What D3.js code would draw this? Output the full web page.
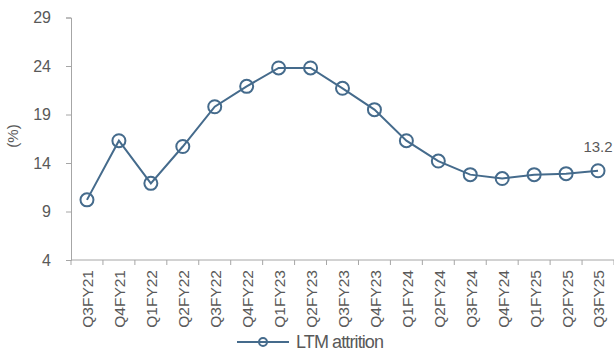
<!DOCTYPE html>
<html>
<head>
<meta charset="utf-8">
<script src="https://cdn.jsdelivr.net/npm/d3@7/dist/d3.min.js"></script>
<style>
  html, body { margin: 0; padding: 0; background: #fff; }
  svg { display: block; }
  text { font-family: "Liberation Sans", Arial, sans-serif; fill: #595959; }
</style>
</head>
<body>
<svg id="chart" width="614" height="354"></svg>
<script>
// Quarterly LTM attrition (%)
const quarters = ["Q3FY21","Q4FY21","Q1FY22","Q2FY22","Q3FY22","Q4FY22","Q1FY23","Q2FY23",
  "Q3FY23","Q4FY23","Q1FY24","Q2FY24","Q3FY24","Q4FY24","Q1FY25","Q2FY25","Q3FY25"];
const attrition = [10.2, 16.3, 11.9, 15.7, 19.8, 21.9, 23.8, 23.8,
  21.7, 19.5, 16.3, 14.2, 12.8, 12.4, 12.8, 12.9, 13.2];
const yTicks = [4, 9, 14, 19, 24, 29];
const seriesName = "LTM attrition";

const lineColor = "#456b8c";
const axisColor = "#a6a6a6";

const svg = d3.select("#chart");
const plotLeft = 71, plotRight = 614, plotTop = 17.5, plotBottom = 260;

const x = d3.scaleBand().domain(quarters).range([plotLeft, plotRight]);
const y = d3.scaleLinear().domain([4, 29]).range([plotBottom, plotTop]);

// Y axis
const yAxis = svg.append("g")
  .attr("transform", `translate(${plotLeft},0)`)
  .call(d3.axisLeft(y).tickValues(yTicks).tickSize(5).tickPadding(15).tickFormat(d3.format("d")));
yAxis.selectAll("path, line").attr("stroke", axisColor);
yAxis.selectAll("text").style("font-size", "16px").attr("fill", "#595959")
  .style("font-family", "'Liberation Sans', Arial, sans-serif");

// X axis: ticks sit on band boundaries
const xAxis = svg.append("g").attr("transform", `translate(0,${plotBottom})`);
xAxis.append("line")
  .attr("x1", plotLeft).attr("x2", plotRight).attr("y1", 0).attr("y2", 0)
  .attr("stroke", axisColor);
const bounds = quarters.map(q => x(q)).concat([x(quarters[quarters.length - 1]) + x.bandwidth()]);
xAxis.selectAll("line.tick").data(bounds).join("line")
  .attr("class", "tick")
  .attr("x1", d => d).attr("x2", d => d).attr("y1", 0).attr("y2", 5)
  .attr("stroke", axisColor);
xAxis.selectAll("text.lbl").data(quarters).join("text")
  .attr("class", "lbl")
  .attr("transform", d => `translate(${x(d) + x.bandwidth() / 2 + 1},10) rotate(-90)`)
  .attr("text-anchor", "end")
  .attr("dy", "0.35em")
  .style("font-size", "15.5px")
  .text(d => d);

// Axis title
svg.append("text")
  .attr("transform", `translate(13,136) rotate(-90)`)
  .attr("text-anchor", "middle")
  .attr("dy", "0.35em")
  .style("font-size", "15px")
  .text("(%)");

// Line + hollow markers
const cx = (d, i) => x(quarters[i]) + x.bandwidth() / 2;
svg.append("path")
  .datum(attrition)
  .attr("fill", "none")
  .attr("stroke", lineColor)
  .attr("stroke-width", 2)
  .attr("d", d3.line().x(cx).y(d => y(d)));
svg.selectAll("circle.pt").data(attrition).join("circle")
  .attr("class", "pt")
  .attr("cx", cx).attr("cy", d => y(d))
  .attr("r", 6.5)
  .attr("fill", "none")
  .attr("stroke", lineColor)
  .attr("stroke-width", 2);

// Latest value label
const lastI = attrition.length - 1;
svg.append("text")
  .attr("x", cx(attrition[lastI], lastI))
  .attr("y", y(attrition[lastI]) - 19)
  .attr("text-anchor", "middle")
  .style("font-size", "15px")
  .text(d3.format(".1f")(attrition[lastI]));

// Legend
const lg = svg.append("g").attr("transform", "translate(237,342)");
lg.append("line").attr("x1", 0).attr("x2", 52).attr("y1", 0).attr("y2", 0)
  .attr("stroke", lineColor).attr("stroke-width", 2);
lg.append("circle").attr("cx", 26).attr("cy", 0).attr("r", 4)
  .attr("fill", "none").attr("stroke", lineColor).attr("stroke-width", 2);
lg.append("text").attr("x", 59).attr("y", 0).attr("dy", "0.35em")
  .style("font-family", "'Liberation Sans Narrow', 'Liberation Sans', sans-serif")
  .style("font-size", "18px")
  .attr("textLength", 88)
  .text(seriesName);
</script>
</body>
</html>
